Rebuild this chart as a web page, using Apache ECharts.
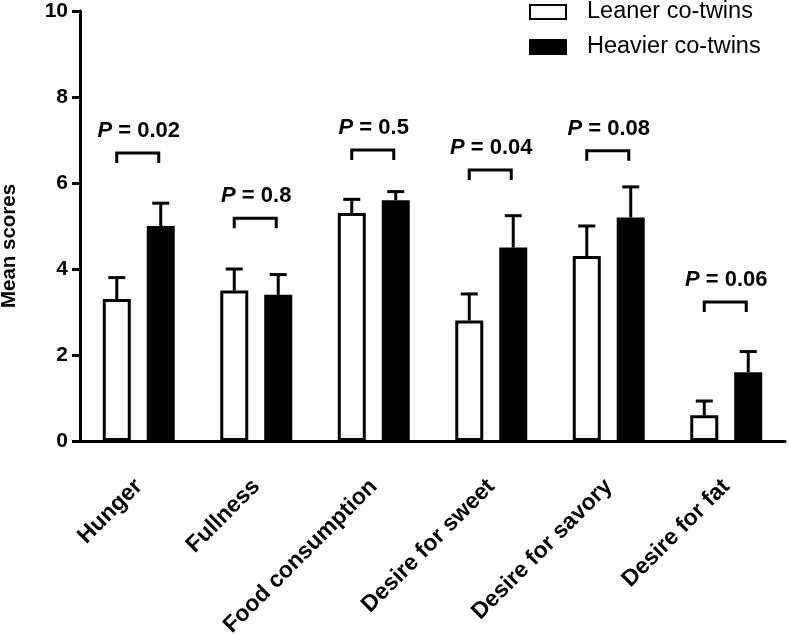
<!DOCTYPE html>
<html>
<head>
<meta charset="utf-8">
<script src="https://cdn.jsdelivr.net/npm/echarts@6/dist/echarts.min.js"></script>
<style>html,body{margin:0;padding:0;background:#fff}#c{width:789px;height:635px}</style>
</head>
<body>
<div id="c"></div>
<script>
const categories = ['Hunger', 'Fullness', 'Food consumption', 'Desire for sweet', 'Desire for savory', 'Desire for fat'];
const leaner = [3.3, 3.5, 5.3, 2.8, 4.3, 0.6];
const leanerSEM = [0.5, 0.5, 0.32, 0.62, 0.7, 0.33];
const heavier = [5.0, 3.4, 5.6, 4.5, 5.2, 1.6];
const heavierSEM = [0.53, 0.47, 0.2, 0.74, 0.71, 0.48];
const bracketLevel = [6.7, 5.18, 6.77, 6.3, 6.75, 3.23];
const pValues = ['0.02', '0.8', '0.5', '0.04', '0.08', '0.06'];
const yTicks = [0, 2, 4, 6, 8, 10];

const FONT = "'Liberation Sans', Arial, sans-serif";
const BAR_W = 28, BAR_GAP = 0.57;
const OFF = BAR_W * (1 + BAR_GAP) / 2;

function errRender(sign) {
  return function (params, api) {
    const i = api.value(0), v = api.value(1), e = api.value(2);
    const a = api.coord([i, v]);
    const b = api.coord([i, v + e]);
    const x = a[0] + sign * OFF;
    const style = { stroke: '#000', lineWidth: 3 };
    return {
      type: 'group',
      children: [
        { type: 'line', shape: { x1: x, y1: a[1], x2: x, y2: b[1] }, style },
        { type: 'line', shape: { x1: x - 8.5, y1: b[1], x2: x + 8.5, y2: b[1] }, style }
      ]
    };
  };
}

const chart = echarts.init(document.getElementById('c'));
chart.setOption({
  animation: false,
  backgroundColor: '#fff',
  textStyle: { fontFamily: FONT },
  legend: {
    orient: 'vertical',
    left: 529, top: 0, padding: 0,
    itemWidth: 36, itemHeight: 14, itemGap: 11,
    icon: 'rect',
    textStyle: { fontFamily: FONT, fontSize: 23.5, color: '#000', padding: [0, 0, 0, 16] },
    data: ['Leaner co-twins', 'Heavier co-twins']
  },
  grid: { left: 80, right: 4, top: 11, bottom: 194, containLabel: false, outerBoundsMode: 'none' },
  xAxis: {
    type: 'category',
    data: categories,
    axisLine: { lineStyle: { color: '#000', width: 3 } },
    axisTick: { alignWithLabel: true, length: 20, lineStyle: { color: '#000', width: 3 } },
    axisLabel: { rotate: 45, margin: 42, color: '#000', fontWeight: 'bold', fontSize: 23, fontFamily: FONT, interval: 0 }
  },
  yAxis: {
    type: 'value',
    min: yTicks[0], max: yTicks[yTicks.length - 1], interval: 2,
    name: 'Mean scores', nameLocation: 'middle', nameRotate: 90, nameGap: 60,
    nameTextStyle: { color: '#000', fontWeight: 'bold', fontSize: 20.5, fontFamily: FONT, padding: [0, 40, 0, 0] },
    splitLine: { show: false },
    axisLine: { show: true, lineStyle: { color: '#000', width: 3 } },
    axisTick: { show: true, length: 8, lineStyle: { color: '#000', width: 3 } },
    axisLabel: { margin: 12, color: '#000', fontWeight: 'bold', fontSize: 21, fontFamily: FONT }
  },
  series: [
    {
      name: 'Leaner co-twins', type: 'bar', data: leaner,
      barWidth: BAR_W, barGap: (BAR_GAP * 100) + '%',
      itemStyle: { color: '#fff', borderColor: '#000', borderWidth: 3 }
    },
    {
      name: 'Heavier co-twins', type: 'bar', data: heavier,
      barWidth: BAR_W,
      itemStyle: { color: '#000', borderColor: '#000', borderWidth: 3 }
    },
    {
      type: 'custom', renderItem: errRender(-1), z: 5,
      data: leaner.map((v, i) => [i, v, leanerSEM[i]])
    },
    {
      type: 'custom', renderItem: errRender(1), z: 5,
      data: heavier.map((v, i) => [i, v, heavierSEM[i]])
    },
    {
      type: 'custom', z: 5,
      data: bracketLevel.map((v, i) => [i, v]),
      renderItem: function (params, api) {
        const i = api.value(0), v = api.value(1);
        const p = api.coord([i, v]);
        const cx = p[0] - 1, y = p[1], hw = 21;
        return {
          type: 'group',
          children: [
            { type: 'polyline', shape: { points: [[cx - hw, y + 10], [cx - hw, y], [cx + hw, y], [cx + hw, y + 10]] },
              style: { stroke: '#000', lineWidth: 3, fill: null } },
            { type: 'text', x: cx + 1, y: y - 22,
              style: {
                text: '{i|P}{b| = ' + pValues[i] + '}',
                align: 'center', verticalAlign: 'middle',
                rich: {
                  i: { fontStyle: 'italic', fontWeight: 'bold', fontSize: 22, fontFamily: FONT, fill: '#000' },
                  b: { fontWeight: 'bold', fontSize: 22, fontFamily: FONT, fill: '#000' }
                }
              } }
          ]
        };
      }
    }
  ]
});
</script>
</body>
</html>
